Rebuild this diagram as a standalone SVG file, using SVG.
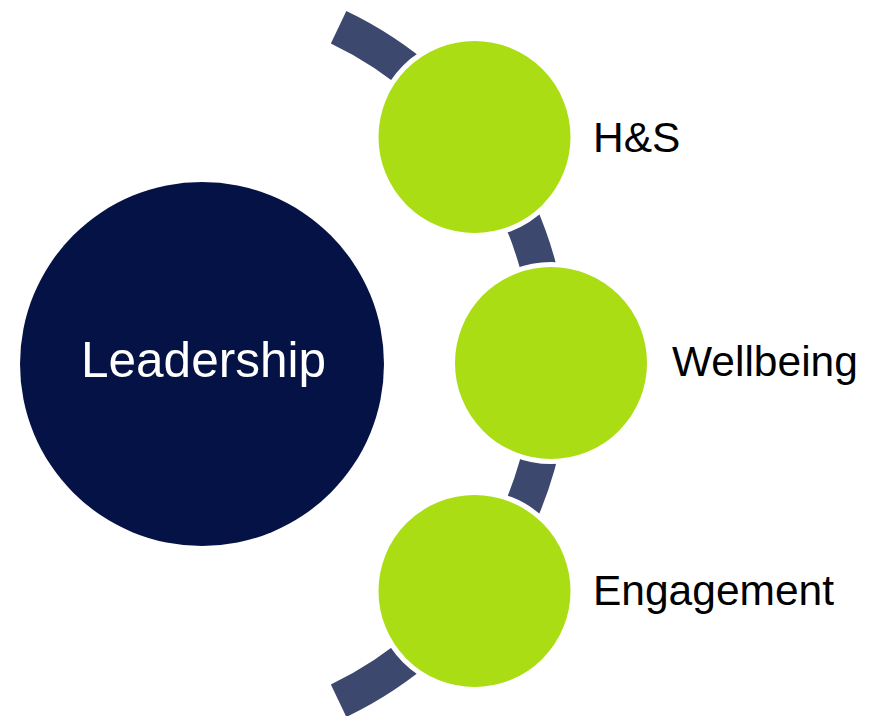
<svg xmlns="http://www.w3.org/2000/svg" width="871" height="716" viewBox="0 0 871 716">
<style>
.band{fill:none;stroke:#3d486e;stroke-width:36;stroke-linecap:butt}
.bub{fill:#aadd14;stroke:#ffffff;stroke-width:5}
.lbl{font-family:"Liberation Sans",Arial,sans-serif;font-size:42.5px;fill:#000000}
.main{font-family:"Liberation Sans",Arial,sans-serif;font-size:49.5px;fill:#ffffff;text-anchor:middle}
</style>
<rect width="871" height="716" fill="#ffffff"/>
<g id="connectors">
<path class="band" d="M 338.6 27.3 A 373 373 0 0 1 338.6 700.7"/>
</g>
<g id="leadership">
<circle cx="202" cy="364" r="182" fill="#051245"/>
<text class="main" x="203.5" y="377">Leadership</text>
</g>
<g id="hs">
<circle class="bub" cx="474.5" cy="137" r="98.5"/>
<text class="lbl" x="593" y="152">H&amp;S</text>
</g>
<g id="wellbeing">
<circle class="bub" cx="551" cy="363" r="98.5"/>
<text class="lbl" x="672" y="376">Wellbeing</text>
</g>
<g id="engagement">
<circle class="bub" cx="474.5" cy="591" r="98.5"/>
<text class="lbl" x="593" y="605">Engagement</text>
</g>
</svg>
